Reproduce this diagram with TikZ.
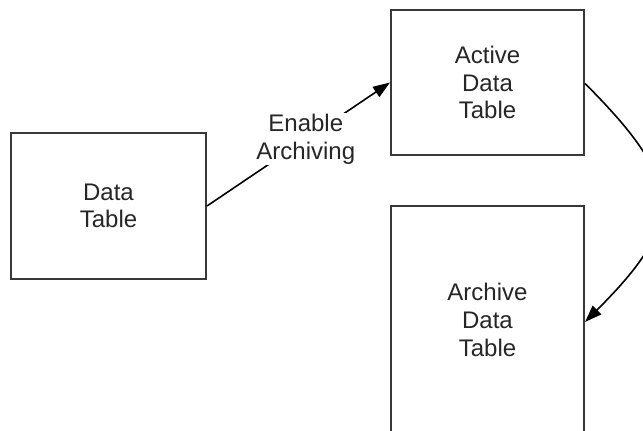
\documentclass[tikz,border=0pt]{standalone}
\usepackage{fontspec}
\setmainfont{Liberation Sans}
\usetikzlibrary{arrows.meta}
\definecolor{ink}{HTML}{262626}
\definecolor{edge}{HTML}{383838}
\tikzset{
  tablebox/.style={draw=edge, line width=2pt, fill=white, align=center, text=ink,
    font=\fontsize{24}{27.6}\selectfont, inner sep=0pt},
  conn/.style={draw=black, line width=1.6pt, -{Triangle[length=17pt,width=12pt]}},
  lbl/.style={fill=white, text=ink, align=center, font=\fontsize{24}{27.6}\selectfont, inner sep=1pt}
}
\begin{document}
\begin{tikzpicture}[x=1pt,y=-1pt]
\useasboundingbox (0,0) rectangle (643,431);
\clip (0,0) rectangle (643,431);
\node[tablebox, minimum width=195pt, minimum height=146pt] (dt) at (108.5,206) {Data\\Table};
\node[tablebox, minimum width=193pt, minimum height=145pt] (act) at (487.5,82.5) {Active\\Data\\Table};
\node[tablebox, minimum width=193pt, minimum height=228pt] (arc) at (487.5,320) {Archive\\Data\\Table};
\draw[conn] (dt.east) -- node[lbl, pos=0.54] {Enable\\Archiving} (act.west);
\draw[conn] ([yshift=-1pt]act.east) .. controls +(100,100) and +(100,-100) .. ([yshift=-2pt]arc.east);
\end{tikzpicture}
\end{document}
